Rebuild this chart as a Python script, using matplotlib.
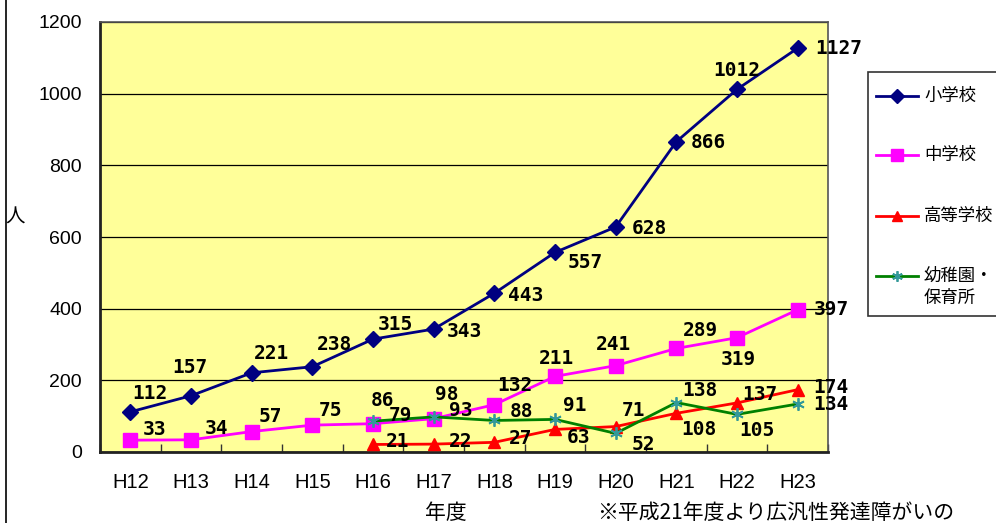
import numpy as np
import matplotlib
matplotlib.use("Agg")
import matplotlib.pyplot as plt
from matplotlib.lines import Line2D
from matplotlib.patches import Rectangle

plt.rcParams['font.family'] = ['Liberation Sans', 'Noto Sans CJK JP', 'DejaVu Sans']

# ---- data ----
years = ["H12", "H13", "H14", "H15", "H16", "H17", "H18", "H19", "H20", "H21", "H22", "H23"]
elementary = [112, 157, 221, 238, 315, 343, 443, 557, 628, 866, 1012, 1127]
junior = [33, 34, 57, 75, 79, 93, 132, 211, 241, 289, 319, 397]
high = [np.nan, np.nan, np.nan, np.nan, 21, 22, 27, 63, 71, 108, 137, 174]
kinder = [np.nan, np.nan, np.nan, np.nan, 86, 98, 88, 91, 52, 138, 105, 134]
series_names = ["小学校", "中学校", "高等学校", "幼稚園・\n保育所"]
yticks = [0, 200, 400, 600, 800, 1000, 1200]

# ---- label offsets (pixels) ----
off_elem = [(20, 18), (-1, 28), (20, 19), (22, 22), (22, 15), (31, -2), (31, -2),
            (30, -10), (34, -2), (32, -1), (0, 19), (41, 0)]
off_jun = [(24, 11), (26, 11), (19, 15), (18, 15), (27, 8), (27, 8), (21, 19),
           (2, 18), (-2, 21), (24, 18), (1, -22), (34, 0)]
off_high = [None] * 4 + [(25, 3), (27, 3), (26, 4), (23, -8), (18, 16), (23, -16), (23, 8), (33, 2)]
off_kin = [None] * 4 + [(9, 21), (13, 22), (27, 9), (20, 14), (28, -11), (24, 12), (20, -16), (33, -1)]

W, H = 996, 523
fig = plt.figure(figsize=(W / 100, H / 100), dpi=100)
ax = fig.add_axes([100 / W, 1 - 452 / H, 728 / W, 430 / H])
ax.set_facecolor('#FFFF99')

x = np.arange(len(years))
styles = [
    dict(color='#000080', marker='D', markersize=8, markerfacecolor='#000080', markeredgecolor='#000080'),
    dict(color='#FF00FF', marker='s', markersize=9.5, markerfacecolor='#FF00FF', markeredgecolor='#FF00FF'),
    dict(color='#FF0000', marker='^', markersize=8, markerfacecolor='#FF0000', markeredgecolor='#FF0000'),
    dict(color='#008000', marker=(6, 2, 0), markersize=9, markeredgecolor='#339999', markeredgewidth=1.3),
]
all_series = [elementary, junior, high, kinder]
all_offs = [off_elem, off_jun, off_high, off_kin]

for i, (vals, st) in enumerate(zip(all_series, styles)):
    ax.plot(x, vals, lw=2.0, zorder=3 + i, clip_on=False, **st)

for vals, offs in zip(all_series, all_offs):
    for xi, v, o in zip(x, vals, offs):
        if np.isnan(v) or o is None:
            continue
        ax.annotate(f"{int(v)}", (xi, v), xytext=o, textcoords='offset pixels',
                    ha='center', va='center', fontsize=14, fontweight='bold',
                    family='DejaVu Sans Mono', zorder=10, annotation_clip=False)

ax.set_xlim(-0.5, len(years) - 0.5)
ax.set_ylim(0, 1200)
ax.set_yticks(yticks)
ax.set_yticklabels([str(t) for t in yticks], fontsize=14)
ax.tick_params(axis='y', length=0, pad=13)
ax.yaxis.grid(True, color='black', lw=0.9)
ax.set_axisbelow(True)

ax.set_xticks(x)
ax.set_xticklabels(years, fontsize=14.5)
ax.set_xticks(np.arange(len(years) + 1) - 0.5, minor=True)
ax.tick_params(axis='x', which='major', length=0, pad=15)
ax.tick_params(axis='x', which='minor', direction='in', length=6, color='#333333', width=1)

for s in ['left', 'bottom']:
    ax.spines[s].set_linewidth(2)
    ax.spines[s].set_color('#222222')
for s in ['top', 'right']:
    ax.spines[s].set_linewidth(1.2)
    ax.spines[s].set_color('#555555')

fig.text(15 / W, 1 - 217 / H, "人", fontsize=14, ha='center', va='center', family=['Noto Sans CJK JP'])
fig.text(446 / W, 1 - 513 / H, "年度", fontsize=15, ha='center', va='center', family=['Noto Sans CJK JP'])
fig.text(597 / W, 1 - 513 / H, "※平成21年度より広汎性発達障がいの", fontsize=15, ha='left', va='center',
         family=['Noto Sans CJK JP'])

# figure left border
fig.add_artist(Line2D([5.5 / W, 5.5 / W], [0, 1], transform=fig.transFigure, color='black', lw=1.2))

# legend (manual)
fig.add_artist(Rectangle((868 / W, 1 - 316 / H), 140 / W, 244 / H, transform=fig.transFigure,
                         facecolor='white', edgecolor='#333333', lw=1.2, clip_on=False))
leg_y = [96, 155, 216, 276]
for yy, name, st in zip(leg_y, series_names, styles):
    fy = 1 - yy / H
    fig.add_artist(Line2D([876 / W, 918 / W], [fy, fy], transform=fig.transFigure, lw=2.0,
                          color=st['color']))
    mst = {k: v for k, v in st.items() if k != 'color'}
    mst['markersize'] = mst['markersize'] * 0.85
    fig.add_artist(Line2D([897 / W], [fy], transform=fig.transFigure, linestyle='none', **mst))
    txt_y = fy - (11 / H if "\n" in name else 0)
    fig.text(924 / W, txt_y, name, fontsize=12.5, ha='left', va='center',
             family=['Noto Sans CJK JP'], linespacing=1.25)

fig.savefig("out.png", dpi=100)
